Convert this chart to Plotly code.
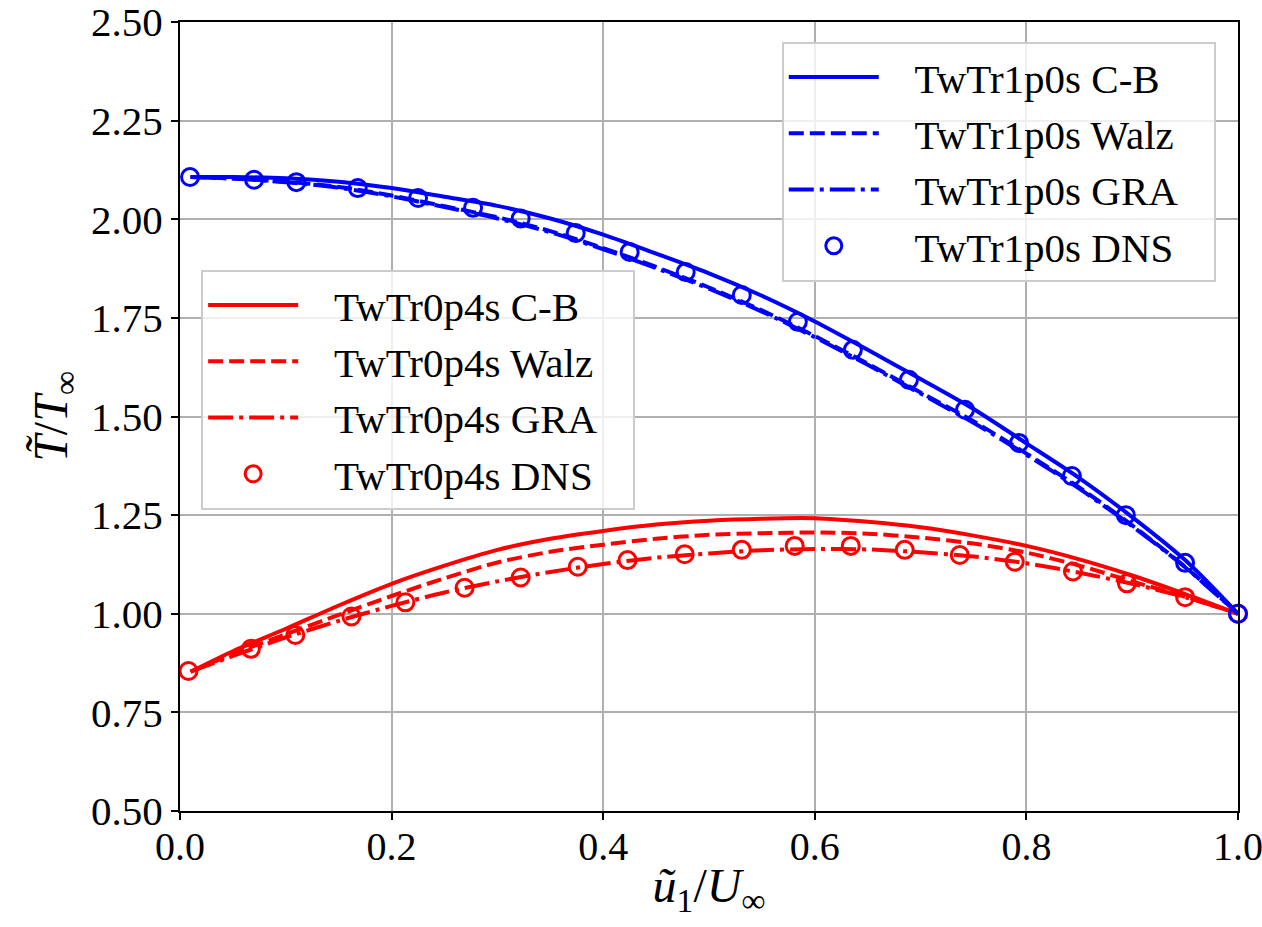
import plotly.graph_objects as go

# Velocity grid for the model curves (u1 / U_inf)
u_model = [0.01, 0.05, 0.10, 0.15, 0.20, 0.25, 0.30, 0.35, 0.40, 0.45, 0.50,
           0.55, 0.60, 0.65, 0.70, 0.75, 0.80, 0.85, 0.90, 0.95, 1.00]

# TwTr1p0s (adiabatic-like wall) temperature relations
t10_cb = [2.107, 2.107, 2.104, 2.095, 2.079, 2.057, 2.034, 2.002, 1.961, 1.913, 1.863,
          1.806, 1.741, 1.669, 1.595, 1.519, 1.432, 1.344, 1.245, 1.136, 1.000]
t10_walz = [2.107, 2.103, 2.095, 2.082, 2.060, 2.033, 2.005, 1.970, 1.927, 1.879, 1.827,
            1.769, 1.704, 1.634, 1.561, 1.488, 1.406, 1.320, 1.224, 1.119, 1.000]
t10_gra = [2.107, 2.103, 2.094, 2.080, 2.058, 2.031, 2.002, 1.967, 1.924, 1.876, 1.824,
           1.766, 1.701, 1.631, 1.558, 1.484, 1.403, 1.317, 1.222, 1.118, 1.000]

# TwTr0p4s (cooled wall) temperature relations
t04_cb = [0.853, 0.905, 0.962, 1.021, 1.076, 1.122, 1.162, 1.190, 1.210, 1.226, 1.236,
          1.241, 1.242, 1.233, 1.219, 1.198, 1.172, 1.138, 1.097, 1.050, 1.000]
t04_walz = [0.853, 0.898, 0.948, 0.997, 1.045, 1.090, 1.130, 1.157, 1.175, 1.190, 1.200,
            1.204, 1.206, 1.203, 1.193, 1.178, 1.155, 1.122, 1.082, 1.043, 1.000]
t04_gra = [0.853, 0.893, 0.940, 0.982, 1.020, 1.054, 1.082, 1.106, 1.126, 1.142, 1.153,
           1.161, 1.164, 1.163, 1.156, 1.145, 1.128, 1.104, 1.076, 1.042, 1.000]

# DNS samples
u10_dns = [0.0095, 0.070, 0.110, 0.168, 0.225, 0.277, 0.322, 0.374, 0.425, 0.478,
           0.531, 0.584, 0.636, 0.689, 0.742, 0.793, 0.843, 0.894, 0.950, 1.000]
t10_dns = [2.107, 2.100, 2.094, 2.079, 2.054, 2.029, 2.002, 1.965, 1.917, 1.866,
           1.808, 1.740, 1.669, 1.593, 1.517, 1.433, 1.349, 1.250, 1.129, 1.000]

u04_dns = [0.008, 0.067, 0.109, 0.162, 0.213, 0.269, 0.322, 0.376, 0.423, 0.477,
           0.531, 0.581, 0.634, 0.685, 0.737, 0.789, 0.844, 0.895, 0.950, 1.000]
t04_dns = [0.855, 0.911, 0.946, 0.993, 1.029, 1.066, 1.092, 1.119, 1.136, 1.151,
           1.162, 1.172, 1.172, 1.162, 1.149, 1.132, 1.107, 1.077, 1.042, 1.000]

x_ticks = [0.0, 0.2, 0.4, 0.6, 0.8, 1.0]
y_ticks = [0.50, 0.75, 1.00, 1.25, 1.50, 1.75, 2.00, 2.25, 2.50]

BLUE = "#0000ff"
RED = "#ff0000"
LW = 4
DASH = "15px,6px"
DASHDOT = "25px,6px,4px,6px"
FONT = "Liberation Serif"
PAD_L = "\u00a0" * 3   # gap between legend handle and label
PAD_R = "\u00a0" * 3   # right padding inside legend box

fig = go.Figure()

series = [
    ("TwTr0p4s C-B", u_model, t04_cb, RED, "solid", "legend2"),
    ("TwTr0p4s Walz", u_model, t04_walz, RED, DASH, "legend2"),
    ("TwTr0p4s GRA", u_model, t04_gra, RED, DASHDOT, "legend2"),
    ("TwTr1p0s C-B", u_model, t10_cb, BLUE, "solid", "legend"),
    ("TwTr1p0s Walz", u_model, t10_walz, BLUE, DASH, "legend"),
    ("TwTr1p0s GRA", u_model, t10_gra, BLUE, DASHDOT, "legend"),
]
for name, xs, ys, col, dash, leg in series:
    fig.add_trace(go.Scatter(
        x=xs, y=ys, mode="lines", name=PAD_L + name + PAD_R, legend=leg, legendgroup=name,
        line=dict(color=col, width=LW, dash=dash, shape="spline", smoothing=0.8),
    ))

for name, xs, ys, col, leg in [
    ("TwTr0p4s DNS", u04_dns, t04_dns, RED, "legend2"),
    ("TwTr1p0s DNS", u10_dns, t10_dns, BLUE, "legend"),
]:
    fig.add_trace(go.Scatter(
        x=xs, y=ys, mode="markers", name=PAD_L + name + PAD_R, legend=leg, legendgroup=name,
        marker=dict(symbol="circle-open", size=17, color=col, line=dict(width=3, color=col)),
        cliponaxis=False,
    ))

legend_style = dict(
    bgcolor="rgba(255,255,255,0.8)", bordercolor="#cccccc", borderwidth=2,
    font=dict(family=FONT, size=41, color="black"),
    itemwidth=90, tracegroupgap=0,
)

axis_common = dict(
    showgrid=True, gridcolor="#b0b0b0", gridwidth=2,
    showline=True, linecolor="black", linewidth=2, mirror=True,
    ticks="outside", ticklen=7, tickwidth=2, tickcolor="black",
    zeroline=False, ticklabeloverflow="allow", automargin=False,
)

fig.update_layout(
    width=1262, height=927, autosize=False,
    margin=dict(l=180, r=24, t=22, b=116, autoexpand=False),
    paper_bgcolor="white", plot_bgcolor="white",
    font=dict(family=FONT, size=41, color="black"),
    legend=dict(x=0.979, y=0.975, xanchor="right", yanchor="top", **legend_style),
    legend2=dict(x=0.02, y=0.686, xanchor="left", yanchor="top", **legend_style),
    xaxis=dict(
        range=[0, 1], tickvals=x_ticks, ticktext=[f"{v:.1f}" for v in x_ticks],
        ticklabelstandoff=-8, tickfont=dict(size=40),
        title=dict(text="<i>ũ</i><sub>1</sub>/<i>U</i><sub>∞</sub>", font=dict(size=48), standoff=0),
        **axis_common,
    ),
    yaxis=dict(
        range=[0.5, 2.5], tickvals=y_ticks, ticktext=[f"{v:.2f}" for v in y_ticks],
        title=dict(text="<i>T̃</i>/<i>T</i><sub>∞</sub>", font=dict(size=48), standoff=8),
        **axis_common,
    ),
)

fig.write_html("out.html")
